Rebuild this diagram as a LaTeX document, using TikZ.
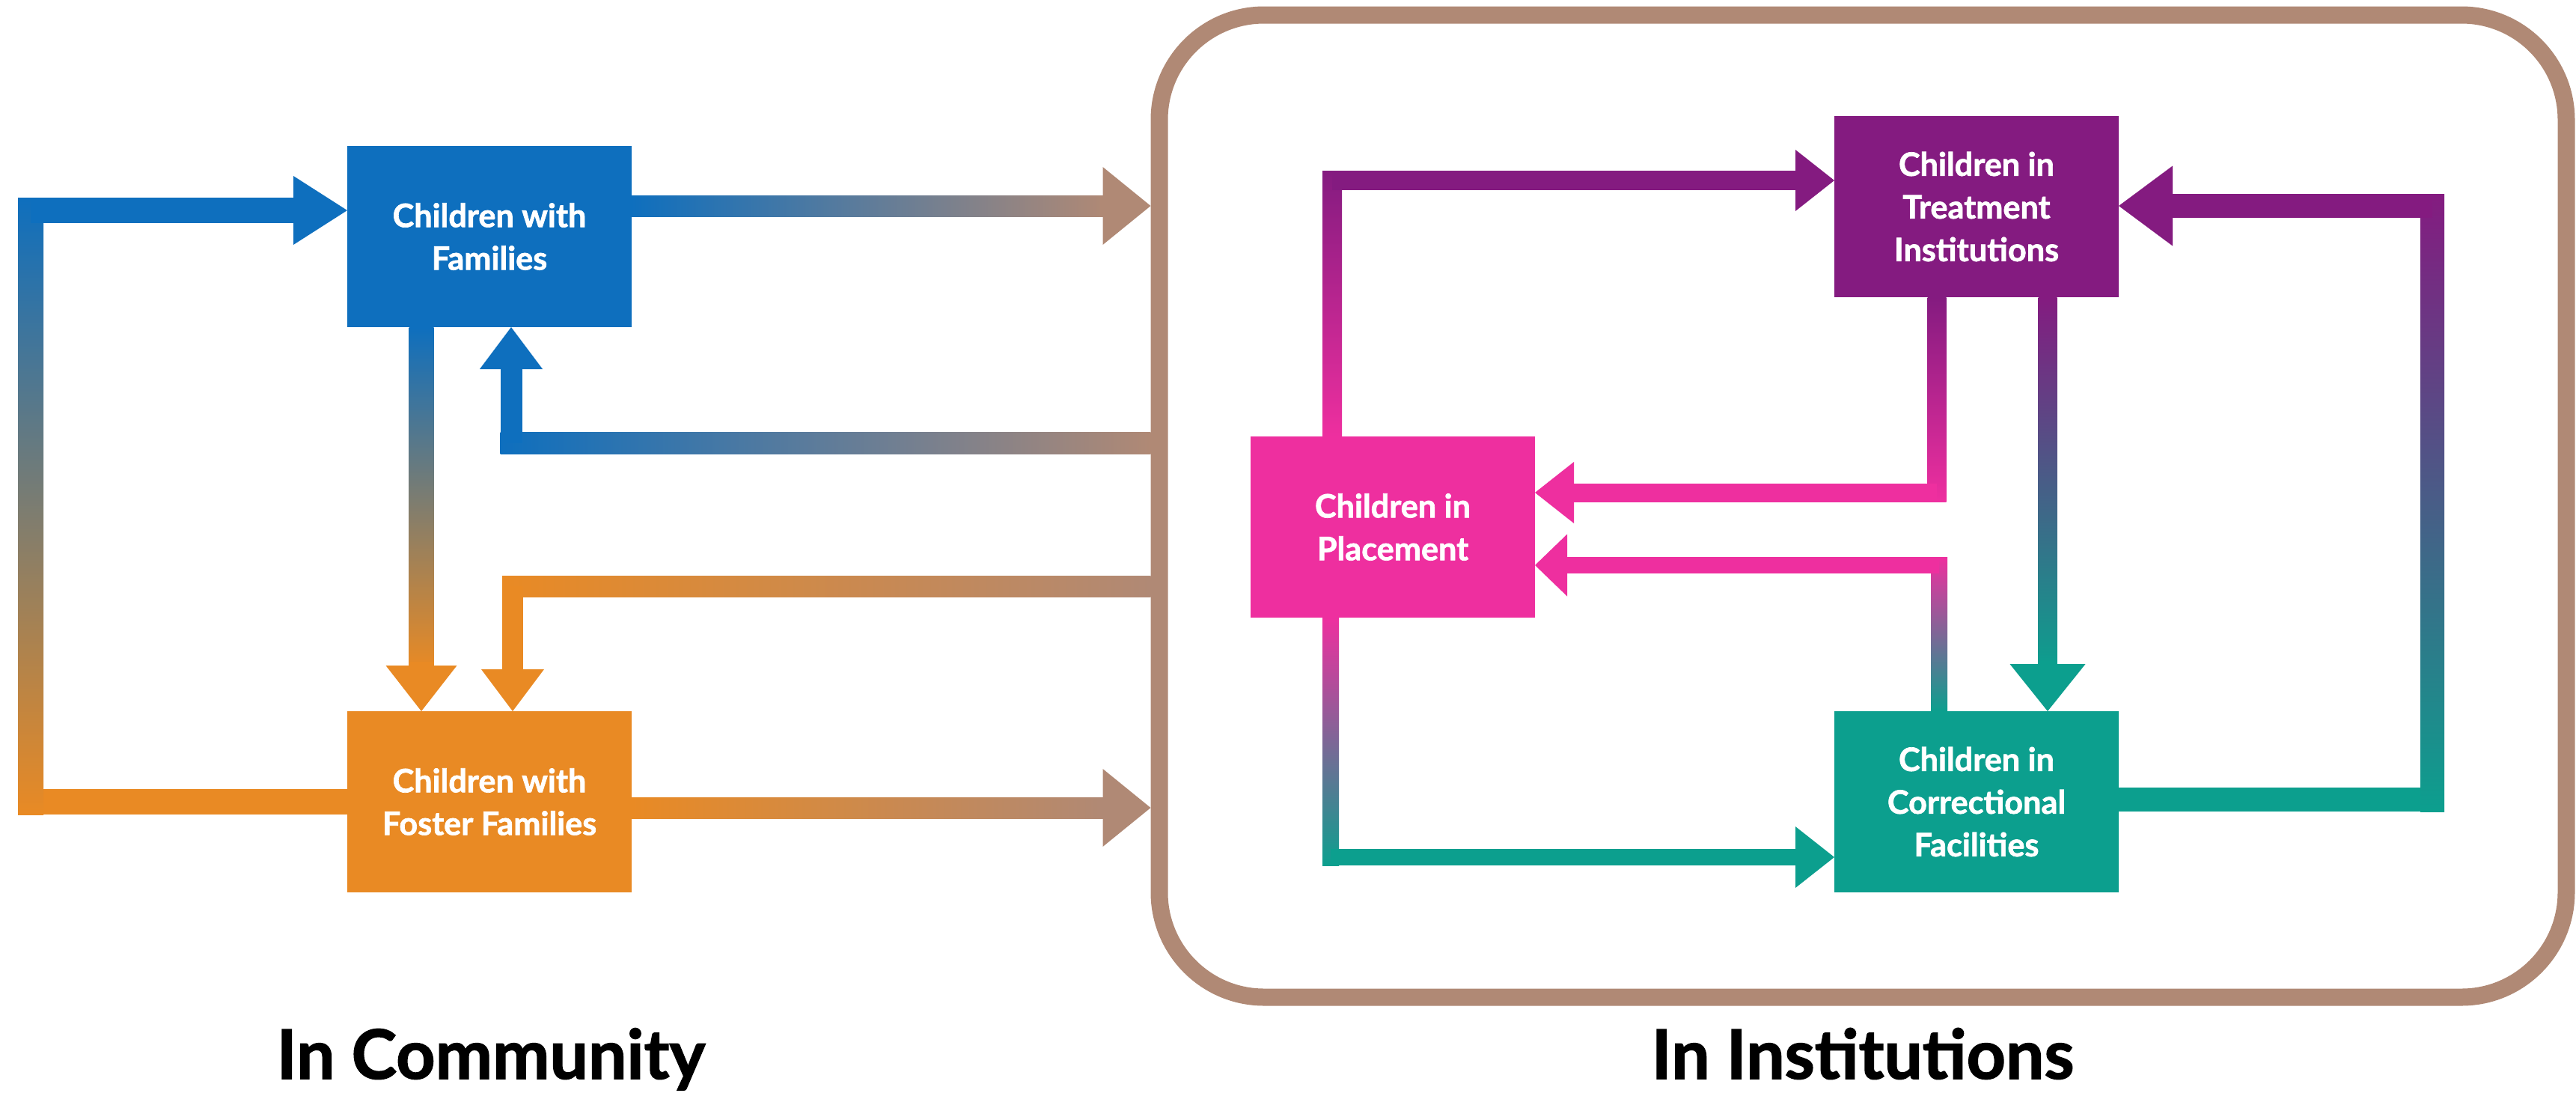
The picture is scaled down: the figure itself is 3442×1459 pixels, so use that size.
\documentclass[tikz,border=0pt]{standalone}
\usepackage{fontspec}
\setmainfont{Lato}[BoldFeatures={FakeBold=1.6}]
\usetikzlibrary{arrows.meta,calc}

\definecolor{cblue}{RGB}{14,111,190}
\definecolor{corange}{RGB}{233,138,36}
\definecolor{cbrown}{RGB}{176,137,117}
\definecolor{cpurple}{RGB}{132,27,128}
\definecolor{cpink}{RGB}{238,47,159}
\definecolor{cteal}{RGB}{12,159,142}

\tikzset{
  box/.style={fill=#1, minimum width=95pt, minimum height=60.5pt, inner sep=0pt,
    outer sep=0pt, text=white, align=center,
    font=\fontsize{10.8pt}{14.25pt}\selectfont\bfseries},
  band/.style={line width=#1*0.25pt},
  vgrad/.style 2 args={top color=#1, bottom color=#2},
  hgrad/.style 2 args={left color=#1, right color=#2},
  title/.style={font=\fontsize{22.8pt}{26pt}\selectfont\bfseries, anchor=base,
    inner sep=0pt},
  tipBig/.style={-{Triangle[width=26pt,length=16pt,line width=0pt]}},
  tipMid/.style={-{Triangle[width=21pt,length=14pt,line width=0pt]}},
  tipS/.style={-{Triangle[width=20.5pt,length=13pt,line width=0pt]}},
  tipC5/.style={-{Triangle[width=23pt,length=18pt,line width=0pt]}},
  tipC6/.style={-{Triangle[width=23.75pt,length=15.25pt,line width=0pt]}},
  tipC9/.style={-{Triangle[width=25.25pt,length=15.75pt,line width=0pt]}},
  tipC10/.style={-{Triangle[width=26.75pt,length=18pt,line width=0pt]}},
  tipC11/.style={-{Triangle[width=20.75pt,length=10.75pt,line width=0pt]}},
}

\begin{document}
\begin{tikzpicture}[x=0.25pt, y=-0.25pt]
  % canvas
  \fill[white] (0,0) rectangle (3442,1459);
  \useasboundingbox (0,0) rectangle (3442,1459);

  % institution frame
  \node[draw=cbrown, line width=5.75pt, rounded corners=35pt, minimum width=470pt,
    minimum height=328pt, inner sep=0pt, outer sep=2.875pt] (inst) at (2489,676) {};

  % boxes
  \node[box=cblue]   (cwf) at (654,316)  {Children with\\Families};
  \node[box=corange] (cff) at (654,1071) {Children with\\Foster Families};
  \node[box=cpink]   (pla) at (1861,704) {Children in\\Placement};
  \node[box=cpurple] (tre) at (2641,276) {Children in\\Treatment\\Institutions};
  \node[box=cteal]   (cor) at (2641,1071) {Children in\\Correctional\\Facilities};

  % captions
  \node[title] (tcom) at (656,1441) {In Community};
  \node[title] (tins) at (2489,1441) {In Institutions};

  % families -> institutions
  \coordinate (c1a) at (cwf.east |- 0,275);
  \coordinate (c1b) at (inst.west |- c1a);
  \shade[hgrad={cblue}{cbrown}] ($(c1a)+(0,-14)$) rectangle ($(c1b)+(-60,14)$);
  \draw[band=28, cbrown, tipBig] ($(c1b)+(-68,0)$) -- (c1b);

  % institutions -> families
  \coordinate (c2a) at (inst.west |- 0,592);
  \coordinate (c2b) at (c2a -| 683,0);
  \shade[hgrad={cblue}{cbrown}] ($(c2b)+(-14.5,-14.5)$) rectangle ($(c2a)+(0,14.5)$);
  \draw[band=29, cblue, tipMid] (c2b) -- (cwf.south -| c2b);

  % institutions -> foster families
  \coordinate (c3a) at (inst.west |- 0,783);
  \coordinate (c3b) at (c3a -| 685,0);
  \shade[hgrad={corange}{cbrown}] ($(c3b)+(-14,-14)$) rectangle ($(c3a)+(0,14)$);
  \draw[band=28, corange, tipMid] (c3b) -- (cff.north -| c3b);

  % foster families -> institutions
  \coordinate (c4a) at (cff.east |- 0,1079);
  \coordinate (c4b) at (inst.west |- c4a);
  \shade[hgrad={corange}{cbrown}] ($(c4a)+(0,-14)$) rectangle ($(c4b)+(-60,14)$);
  \draw[band=28, cbrown, tipBig] ($(c4b)+(-68,0)$) -- (c4b);

  % foster families -> families (outer loop)
  \coordinate (c5a) at (cff.west);
  \coordinate (c5b) at (c5a -| 41,0);
  \coordinate (c5c) at (41,281);
  \draw[band=34, corange] (c5a) -- (c5b);
  \shade[vgrad={cblue}{corange}] ($(c5c)+(-17,-17)$) rectangle ($(c5b)+(17,17)$);
  \draw[band=34, cblue, tipC5] (c5c) -- (cwf.west |- c5c);

  % families -> foster families
  \coordinate (c6a) at (cwf.south -| 563,0);
  \coordinate (c6b) at (cff.north -| 563,0);
  \shade[vgrad={cblue}{corange}] ($(c6a)+(-16.5,0)$) rectangle ($(c6b)+(16.5,-57)$);
  \draw[band=33, corange, tipC6] ($(c6b)+(0,-66)$) -- (c6b);

  % placement -> treatment
  \coordinate (c7a) at (pla.north -| 1780,0);
  \coordinate (c7b) at (c7a |- 0,241);
  \shade[vgrad={cpurple}{cpink}] ($(c7b)+(-13,-13)$) rectangle ($(c7a)+(13,0)$);
  \draw[band=26, cpurple, tipS] (c7b) -- (tre.west |- c7b);

  % treatment -> placement
  \coordinate (c8a) at (tre.south -| 2588,0);
  \coordinate (c8b) at (c8a |- 0,658);
  \shade[vgrad={cpurple}{cpink}] ($(c8a)+(-12.5,0)$) rectangle ($(c8b)+(12.5,12.5)$);
  \draw[band=25, cpink, tipS] (c8b) -- (pla.east |- c8b);

  % treatment -> correctional
  \coordinate (c9a) at (tre.south -| 2736,0);
  \coordinate (c9b) at (cor.north -| 2736,0);
  \shade[vgrad={cpurple}{cteal}] ($(c9a)+(-12.5,0)$) rectangle ($(c9b)+(12.5,-58)$);
  \draw[band=25, cteal, tipC9] ($(c9b)+(0,-68)$) -- (c9b);

  % correctional -> treatment (right loop)
  \coordinate (c10a) at (cor.east |- 0,1068);
  \coordinate (c10b) at (c10a -| 3250,0);
  \coordinate (c10c) at (3250,275);
  \draw[band=32, cteal] (c10a) -- (c10b);
  \shade[vgrad={cpurple}{cteal}] ($(c10c)+(-16,-16)$) rectangle ($(c10b)+(16,16)$);
  \draw[band=32, cpurple, tipC10] (c10c) -- (tre.east |- c10c);

  % correctional -> placement
  \coordinate (c11a) at (cor.north -| 2591,0);
  \coordinate (c11b) at (c11a |- 0,755);
  \shade[vgrad={cpink}{cteal}] ($(c11b)+(-11,-11)$) rectangle ($(c11a)+(11,0)$);
  \draw[band=22, cpink, tipC11] (c11b) -- (pla.east |- c11b);

  % placement -> correctional
  \coordinate (c12a) at (pla.south -| 1778,0);
  \coordinate (c12b) at (c12a |- 0,1145);
  \shade[vgrad={cpink}{cteal}] ($(c12a)+(-11,0)$) rectangle ($(c12b)+(11,11)$);
  \draw[band=22, cteal, tipS] (c12b) -- (cor.west |- c12b);
\end{tikzpicture}
\end{document}
